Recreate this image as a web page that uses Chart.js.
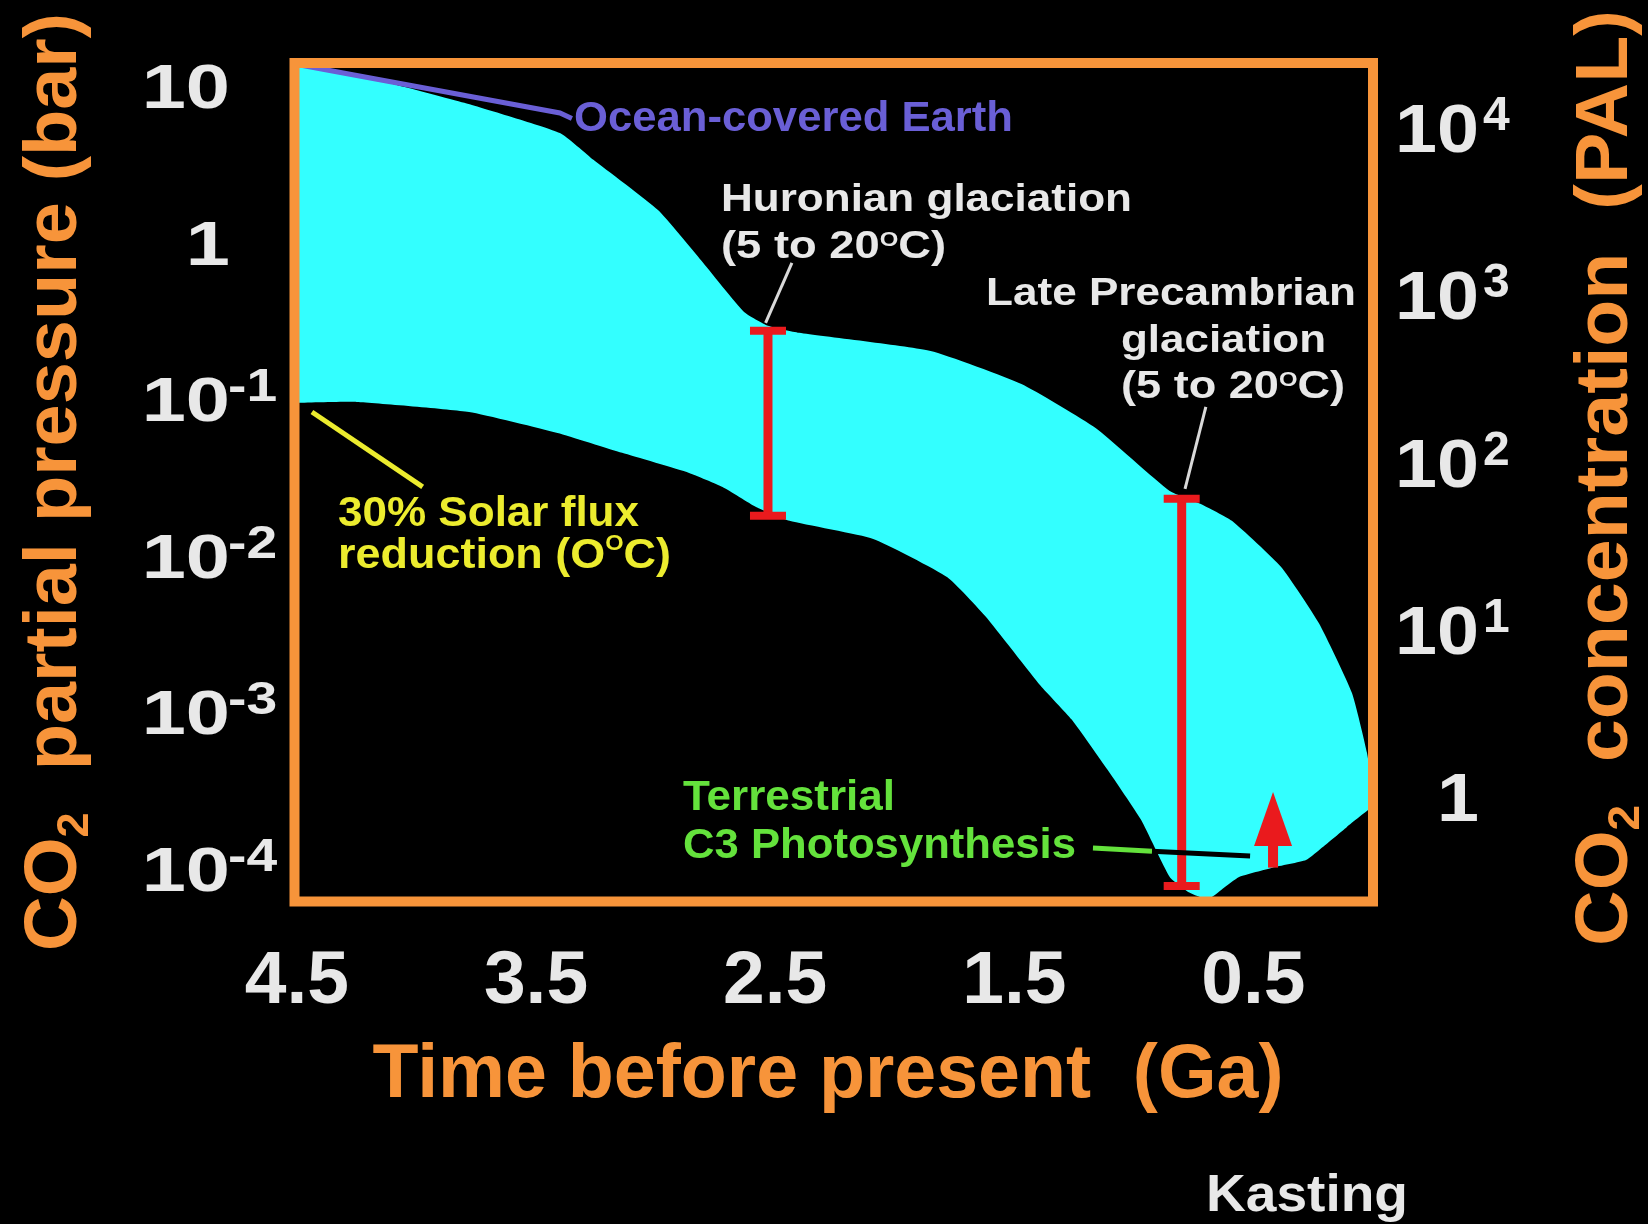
<!DOCTYPE html>
<html lang="en">
<head>
<meta charset="utf-8">
<title>CO2 through Earth history</title>
<script src="https://cdn.jsdelivr.net/npm/chart.js@4.4.1/dist/chart.umd.min.js"></script>
<style>
    html, body { margin: 0; padding: 0; background: #000; }
    canvas { display: block; }
</style>
</head>
<body>
<canvas id="co2Chart" width="1648" height="1224"></canvas>
<script>
// ages in Ga before present, CO2 partial pressure in bar
const upperAge = [4.51, 4.10, 3.80, 3.40, 3.26, 2.99, 2.81, 2.63, 2.53, 2.40, 1.85, 1.47, 1.16, 0.85, 0.72, 0.59, 0.385, 0.226, 0.088, 0.025, 0];
const upperCO2 = [13.8, 10.3, 7.8, 5.0, 3.37, 1.61, 0.77, 0.36, 0.294, 0.265, 0.203, 0.125, 0.0655, 0.0259, 0.0214, 0.0167, 0.0085, 0.0037, 0.00133, 0.00055, 0.0003];
const lowerAge = [4.51, 4.25, 3.78, 3.41, 3.14, 2.86, 2.72, 2.58, 2.44, 2.09, 1.78, 1.62, 1.39, 1.26, 1.11, 0.97, 0.85, 0.77, 0.69, 0.63, 0.56, 0.42, 0.28, 0.21, 0.11, 0];
const lowerCO2 = [0.0946, 0.096, 0.0828, 0.0608, 0.0454, 0.0338, 0.0275, 0.0205, 0.0167, 0.0128, 0.0073, 0.0041, 0.00148, 0.0009, 0.00043, 0.000206, 0.000089, 0.000071, 0.000064, 0.0000745, 0.000089, 0.000102, 0.000114, 0.000138, 0.000185, 0.000252];
const oceanAge = [4.51, 3.40, 3.35];
const oceanCO2 = [13.8, 6.72, 6.2];

// glaciation constraints (Huronian, Late Precambrian)
const glaciationAge = [2.53, 0.80];
const glaciationHigh = [0.273, 0.0231];
const glaciationLow = [0.018, 0.000078];

// C3 photosynthesis limit: stem bottom, head base, tip
const c3Age = 0.418;
const c3Arrow = [0.000102, 0.00014, 0.00031];

const ageTicks = [4.5, 3.5, 2.5, 1.5, 0.5];
const barTicks = [10, 1, 0.1, 0.01, 0.001, 0.0001];
const barBase = ["10", "1", "10", "10", "10", "10"];
const barSup = ["", "", "-1", "-2", "-3", "-4"];
const palTicks = [10000, 1000, 100, 10, 1];
const palBase = ["10", "10", "10", "10", "1"];
const palSup = ["4", "3", "2", "1", ""];

const FONT = '"Liberation Sans", Arial, sans-serif';
const ORANGE = "#f7943a";
const CYAN = "#33ffff";
const RED = "#ea1a1d";
const PURPLE = "#6a5fd6";
const WHITE = "#e8e8e8";
const YELLOW = "#ecec2e";
const GREEN = "#64e23c";

const leaders = [
    { color: "#d9d9d9", width: 3, from: [2.43, 0.741], to: [2.54, 0.307] },
    { color: "#d9d9d9", width: 3, from: [0.699, 0.0891], to: [0.786, 0.0267] },
    { color: YELLOW, width: 5, from: [4.437, 0.0828], to: [3.974, 0.0275] },
    { color: GREEN, width: 5, from: [1.171, 0.000136], to: [0.924, 0.00013] },
    { color: "#000000", width: 5, from: [0.924, 0.00013], to: [0.514, 0.000121] },
];

const notes = [
    { parts: [["Ocean-covered Earth", 42]], x: 574, y: 131, width: 439, color: PURPLE },
    { parts: [["Huronian glaciation", 38]], x: 721, y: 211, width: 411, color: WHITE },
    { parts: [["(5 to 20", 38], ["O", 20, -12], ["C)", 38]], x: 721, y: 258, width: 225, color: WHITE },
    { parts: [["Late Precambrian", 38]], x: 986, y: 305, width: 370, color: WHITE },
    { parts: [["glaciation", 38]], x: 1121, y: 352, width: 205, color: WHITE },
    { parts: [["(5 to 20", 38], ["O", 20, -12], ["C)", 38]], x: 1121, y: 398, width: 224, color: WHITE },
    { parts: [["30% Solar flux", 42]], x: 338, y: 526, width: 301, color: YELLOW },
    { parts: [["reduction (O", 42], ["O", 22, -18], ["C)", 42]], x: 338, y: 568, width: 333, color: YELLOW },
    { parts: [["Terrestrial", 42]], x: 683, y: 810, width: 212, color: GREEN },
    { parts: [["C3 Photosynthesis", 42]], x: 683, y: 858, width: 393, color: GREEN },
    { parts: [["Kasting", 52]], x: 1206, y: 1211, width: 202, color: WHITE },
];

function pts(xs, ys) {
    return xs.map((x, i) => ({ x: x, y: ys[i] }));
}

// draws a run of text pieces (normal / raised / lowered) on one baseline
function richText(ctx, parts, x, y, opt) {
    let total = 0;
    const widths = parts.map((p) => {
        ctx.font = "bold " + p[1] + "px " + FONT;
        const w = ctx.measureText(p[0]).width;
        total += w;
        return w;
    });
    const sx = opt.width ? opt.width / total : (opt.sx || 1);
    let cx = 0;
    if (opt.align === "right") cx = -total;
    if (opt.align === "center") cx = -total / 2;
    ctx.save();
    ctx.translate(x, y);
    ctx.scale(sx, 1);
    ctx.fillStyle = opt.color;
    ctx.textAlign = "left";
    ctx.textBaseline = "alphabetic";
    parts.forEach((p, i) => {
        ctx.font = "bold " + p[1] + "px " + FONT;
        ctx.fillText(p[0], cx, p[2] || 0);
        cx += widths[i];
    });
    ctx.restore();
}

const decorations = {
    id: "decorations",
    beforeDraw(chart) {
        const ctx = chart.ctx;
        ctx.save();
        ctx.fillStyle = "#000";
        ctx.fillRect(0, 0, chart.width, chart.height);
        ctx.restore();
    },
    afterDatasetsDraw(chart) {
        const ctx = chart.ctx;
        const a = chart.chartArea;
        const x = chart.scales.x;
        const y = chart.scales.y;
        ctx.save();
        ctx.lineCap = "butt";
        leaders.forEach((l) => {
            ctx.strokeStyle = l.color;
            ctx.lineWidth = l.width;
            ctx.beginPath();
            ctx.moveTo(x.getPixelForValue(l.from[0]), y.getPixelForValue(l.from[1]));
            ctx.lineTo(x.getPixelForValue(l.to[0]), y.getPixelForValue(l.to[1]));
            ctx.stroke();
        });

        const ax = x.getPixelForValue(c3Age);
        const yStem = y.getPixelForValue(c3Arrow[0]);
        const yBase = y.getPixelForValue(c3Arrow[1]);
        const yTip = y.getPixelForValue(c3Arrow[2]);
        ctx.fillStyle = RED;
        ctx.fillRect(ax - 5, yBase - 1, 10, yStem - yBase + 1);
        ctx.beginPath();
        ctx.moveTo(ax, yTip);
        ctx.lineTo(ax + 19, yBase);
        ctx.lineTo(ax - 19, yBase);
        ctx.closePath();
        ctx.fill();

        ctx.strokeStyle = ORANGE;
        ctx.lineWidth = 10;
        ctx.strokeRect(a.left, a.top, a.right - a.left, a.bottom - a.top);
        ctx.restore();
    },
    afterDraw(chart) {
        const ctx = chart.ctx;
        const x = chart.scales.x;
        const y = chart.scales.y;
        const y2 = chart.scales.y2;

        ageTicks.forEach((v) => {
            richText(ctx, [[v.toFixed(1), 75]], x.getPixelForValue(v), 1003, { align: "center", color: WHITE });
        });
        barTicks.forEach((v, i) => {
            const py = y.getPixelForValue(v);
            richText(ctx, [[barBase[i], 63]], 230, py + 22, { align: "right", sx: 1.26, color: WHITE });
            if (barSup[i]) richText(ctx, [[barSup[i], 46]], 228, py + 2, { sx: 1.2, color: WHITE });
        });
        palTicks.forEach((v, i) => {
            const py = y2.getPixelForValue(v);
            richText(ctx, [[palBase[i], 68]], 1479, py + 24, { align: "right", sx: 1.11, color: WHITE });
            if (palSup[i]) richText(ctx, [[palSup[i], 48]], 1483, py + 2, { color: WHITE });
        });

        notes.forEach((n) => {
            richText(ctx, n.parts, n.x, n.y, { width: n.width, color: n.color });
        });

        richText(ctx, [["Time before present  (Ga)", 76]], 828, 1097, { align: "center", width: 911, color: ORANGE });

        ctx.save();
        ctx.translate(76, 951);
        ctx.rotate(-Math.PI / 2);
        richText(ctx, [["CO", 74], ["2", 44, 12], ["  partial pressure (bar)", 74]], 0, 0, { width: 938, color: ORANGE });
        ctx.restore();

        ctx.save();
        ctx.translate(1627, 946);
        ctx.rotate(-Math.PI / 2);
        richText(ctx, [["CO", 74], ["2", 44, 12], ["  concentration  (PAL)", 74]], 0, 0, { width: 936, color: ORANGE });
        ctx.restore();
    },
};

document.addEventListener("DOMContentLoaded", (event) => {
    const ctx = document.getElementById("co2Chart").getContext("2d");
    const errorBar = (i) => ({
        data: [
            { x: glaciationAge[i], y: glaciationHigh[i] },
            { x: glaciationAge[i], y: glaciationLow[i] },
        ],
        order: -2,
        borderColor: RED,
        borderWidth: 9,
        pointStyle: "line",
        pointRadius: 18,
        pointBorderWidth: 8,
        pointBorderColor: RED,
        fill: false,
    });
    const co2Chart = new Chart(ctx, {
        type: "line",
        data: {
            datasets: [
                {
                    label: "upper",
                    data: pts(upperAge, upperCO2),
                    order: 1,
                    fill: "+1",
                    backgroundColor: CYAN,
                    borderWidth: 0,
                    pointRadius: 0,
                    tension: 0.15,
                },
                {
                    label: "lower",
                    data: pts(lowerAge, lowerCO2),
                    order: 2,
                    fill: false,
                    borderWidth: 0,
                    pointRadius: 0,
                    tension: 0.15,
                },
                {
                    label: "Ocean-covered Earth",
                    data: pts(oceanAge, oceanCO2),
                    order: -1,
                    borderColor: PURPLE,
                    borderWidth: 5,
                    pointRadius: 0,
                    fill: false,
                },
                errorBar(0),
                errorBar(1),
            ],
        },
        options: {
            responsive: false,
            animation: false,
            devicePixelRatio: 1,
            events: [],
            layout: {
                padding: { left: 294.5, top: 63, right: 275, bottom: 322.5 },
            },
            scales: {
                x: { type: "linear", min: 0, max: 4.51, reverse: true, display: false },
                y: { type: "logarithmic", min: 0.000062, max: 14, display: false },
                y2: { type: "logarithmic", position: "right", min: 0.237, max: 24500, display: false },
            },
            plugins: {
                legend: { display: false },
                tooltip: { enabled: false },
            },
        },
        plugins: [decorations],
    });
});
</script>
</body>
</html>
